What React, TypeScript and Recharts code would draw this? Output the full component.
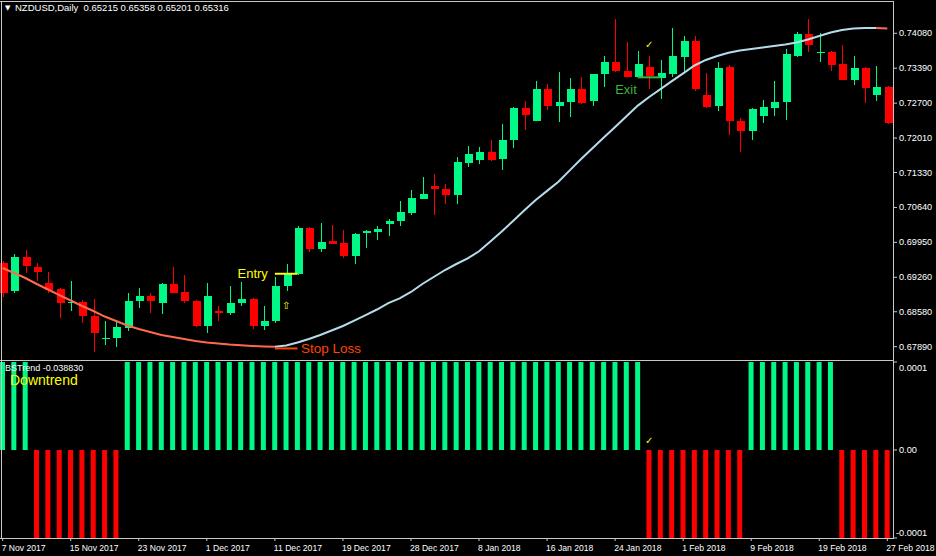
import { BarChart, Bar, Cell, ComposedChart, Line, ReferenceDot, ReferenceLine, XAxis, YAxis } from 'recharts';

// daily NZDUSD bars, 7 Nov 2017 .. 27 Feb 2018
const opens = [
  0.69542, 0.68976, 0.69655, 0.69469, 0.69153, 0.69023, 0.68746, 0.68772, 0.68495, 0.68047,
  0.68047, 0.68272, 0.68792, 0.68891, 0.68746, 0.69128, 0.6897, 0.68792, 0.68304, 0.686,
  0.68561, 0.68746, 0.68831, 0.68304, 0.68403, 0.69088, 0.69325, 0.70228, 0.69813, 0.69977,
  0.69938, 0.69681, 0.70121, 0.70161, 0.70319, 0.70372, 0.7053, 0.70813, 0.71058, 0.7101,
  0.70886, 0.71524, 0.71563, 0.71729, 0.71591, 0.71958, 0.72599, 0.72354, 0.7298, 0.7265,
  0.72709, 0.72974, 0.72743, 0.73262, 0.73507, 0.73335, 0.73223, 0.73409, 0.73203, 0.73276,
  0.73618, 0.73928, 0.72861, 0.7263, 0.73409, 0.72342, 0.72136, 0.72433, 0.7261, 0.72709,
  0.73638, 0.74066, 0.73691, 0.73705, 0.73468, 0.73158, 0.73401, 0.72847, 0.73013,
];
const highs = [
  0.69582, 0.6972, 0.69799, 0.69548, 0.69365, 0.69049, 0.69181, 0.68812, 0.68837, 0.68403,
  0.68416, 0.68944, 0.69043, 0.68956, 0.69153, 0.69469, 0.69305, 0.68812, 0.69141, 0.68699,
  0.69088, 0.69173, 0.68851, 0.68699, 0.69272, 0.69523, 0.70279, 0.70254, 0.70333, 0.70287,
  0.70188, 0.70141, 0.70194, 0.70273, 0.70412, 0.70767, 0.70985, 0.71241, 0.71301, 0.71103,
  0.71636, 0.71854, 0.71834, 0.71972, 0.72288, 0.7263, 0.72743, 0.73138, 0.73079, 0.73316,
  0.73197, 0.73223, 0.73276, 0.73632, 0.74363, 0.73908, 0.73731, 0.73632, 0.73553, 0.74191,
  0.74027, 0.74033, 0.73302, 0.73507, 0.73448, 0.72407, 0.72605, 0.72763, 0.73138, 0.73764,
  0.74112, 0.74363, 0.7408, 0.73721, 0.73849, 0.73632, 0.73415, 0.73434, 0.73029,
];
const lows = [
  0.68871, 0.68956, 0.69339, 0.69193, 0.68944, 0.6845, 0.686, 0.68363, 0.6779, 0.67923,
  0.67889, 0.68205, 0.68648, 0.68561, 0.68535, 0.68944, 0.68758, 0.68278, 0.68166, 0.68403,
  0.68515, 0.68699, 0.68233, 0.68219, 0.68351, 0.68995, 0.69305, 0.69766, 0.69766, 0.69912,
  0.69647, 0.69529, 0.69845, 0.69997, 0.70082, 0.70279, 0.70491, 0.70807, 0.70491, 0.70714,
  0.70714, 0.71433, 0.71492, 0.71557, 0.71386, 0.71814, 0.72176, 0.72348, 0.72565, 0.72328,
  0.72433, 0.72684, 0.7265, 0.73025, 0.73316, 0.73217, 0.73217, 0.7298, 0.72776, 0.73223,
  0.73322, 0.7294, 0.7261, 0.72551, 0.72071, 0.71741, 0.71972, 0.72302, 0.72446, 0.72367,
  0.73606, 0.73717, 0.73507, 0.73341, 0.7315, 0.73065, 0.72697, 0.72749, 0.72289,
];
const closes = [
  0.6895, 0.69655, 0.69469, 0.69371, 0.69023, 0.68746, 0.68766, 0.68495, 0.68166, 0.68055,
  0.68272, 0.68798, 0.68891, 0.68792, 0.69128, 0.68956, 0.68792, 0.68304, 0.68891, 0.68561,
  0.68758, 0.68831, 0.68304, 0.68403, 0.69088, 0.69325, 0.70228, 0.69813, 0.69957, 0.69924,
  0.69681, 0.70115, 0.70169, 0.70214, 0.70378, 0.7055, 0.70832, 0.70906, 0.70991, 0.70886,
  0.71538, 0.71696, 0.71729, 0.71577, 0.71972, 0.72599, 0.72466, 0.7298, 0.7265, 0.72723,
  0.72974, 0.72697, 0.7327, 0.73507, 0.73322, 0.73223, 0.73474, 0.73223, 0.73296, 0.73632,
  0.73928, 0.7298, 0.7263, 0.73389, 0.72334, 0.72136, 0.72579, 0.72618, 0.72723, 0.73665,
  0.74066, 0.73849, 0.73705, 0.73454, 0.73158, 0.73389, 0.73006, 0.73013, 0.72308,
];
// moving average (orange while falling, light blue while rising)
const ma = [
  0.69444, 0.69345, 0.69246, 0.69128, 0.69019, 0.6891, 0.68802, 0.68693, 0.68594, 0.68485,
  0.68397, 0.68308, 0.68239, 0.68179, 0.6812, 0.68081, 0.68041, 0.68001, 0.67972, 0.67952,
  0.67932, 0.67917, 0.67903, 0.67893, 0.67887, 0.67913, 0.67972, 0.68041, 0.6812, 0.68209,
  0.68298, 0.68406, 0.68515, 0.68624, 0.68752, 0.68845, 0.6897, 0.69128, 0.69266, 0.69404,
  0.69523, 0.69633, 0.69774, 0.69969, 0.70165, 0.70374, 0.70586, 0.70789, 0.70967, 0.71149,
  0.71372, 0.71597, 0.7181, 0.7202, 0.72229, 0.72441, 0.72652, 0.72822, 0.72978, 0.73134,
  0.73288, 0.73444, 0.73553, 0.73632, 0.73695, 0.7374, 0.7377, 0.738, 0.73829, 0.73859,
  0.73898, 0.73958, 0.74027, 0.74096, 0.74145, 0.74175, 0.74185, 0.74185, 0.74175,
];
// BSTrend histogram
const trend = [
  0.0001, 0.0001, 0.0001, -0.0001, -0.0001, -0.0001, -0.0001, -0.0001, -0.0001, -0.0001,
  -0.0001, 0.0001, 0.0001, 0.0001, 0.0001, 0.0001, 0.0001, 0.0001, 0.0001, 0.0001,
  0.0001, 0.0001, 0.0001, 0.0001, 0.0001, 0.0001, 0.0001, 0.0001, 0.0001, 0.0001,
  0.0001, 0.0001, 0.0001, 0.0001, 0.0001, 0.0001, 0.0001, 0.0001, 0.0001, 0.0001,
  0.0001, 0.0001, 0.0001, 0.0001, 0.0001, 0.0001, 0.0001, 0.0001, 0.0001, 0.0001,
  0.0001, 0.0001, 0.0001, 0.0001, 0.0001, 0.0001, 0.0001, -0.0001, -0.0001, -0.0001,
  -0.0001, -0.0001, -0.0001, -0.0001, -0.0001, -0.0001, 0.0001, 0.0001, 0.0001, 0.0001,
  0.0001, 0.0001, 0.0001, 0.0001, -0.0001, -0.0001, -0.0001, -0.0001, -0.0001,
];
const dateTicks = [
  '7 Nov 2017', '15 Nov 2017', '23 Nov 2017', '1 Dec 2017', '11 Dec 2017', '19 Dec 2017', '28 Dec 2017',
  '8 Jan 2018', '16 Jan 2018', '24 Jan 2018', '1 Feb 2018', '9 Feb 2018', '19 Feb 2018', '27 Feb 2018',
];
const priceTicks = [0.7408, 0.7339, 0.727, 0.7201, 0.7133, 0.7064, 0.6995, 0.6926, 0.6858, 0.6789];
const trendTicks = [0.0001, 0, -0.0001];

const BULL = '#00F886';
const BEAR = '#FF0000';
const GRID = '#C8C8C8';
const FONT = "'Liberation Sans', Arial, sans-serif";

const candles = opens.map((open, i) => ({
  i,
  open,
  high: highs[i],
  low: lows[i],
  close: closes[i],
  range: [lows[i], highs[i]],
  maDown: i <= 24 || i >= 77 ? ma[i] : null,
  maUp: i >= 24 && i <= 77 ? ma[i] : null,
}));
const trendData = trend.map((v, i) => ({ i, v }));

const Candle = (props: any) => {
  const { x, y, width, height, payload } = props;
  if (y == null || height == null) return null;
  const { open, high, low, close } = payload;
  const color = close >= open ? BULL : BEAR;
  const top = Math.min(y, y + height);
  const ratio = Math.abs(height) / (high - low);
  const yo = top + (high - open) * ratio;
  const yc = top + (high - close) * ratio;
  const cx = Math.round(x + width / 2);
  const bTop = Math.round(Math.min(yo, yc));
  const bH = Math.max(Math.round(Math.abs(yo - yc)), 1);
  return (
    <g shapeRendering="crispEdges">
      <line x1={cx + 0.5} x2={cx + 0.5} y1={Math.round(top)} y2={Math.round(top + Math.abs(height))} stroke={color} />
      <rect x={cx - 3} y={bTop} width={8} height={bH} fill={color} />
    </g>
  );
};

const PriceTick = (props: any) => {
  const { x, y, payload } = props;
  return (
    <text x={x} y={y} dy={3} fill="#fff" fontSize={9.2} fontFamily={FONT} textAnchor="start">
      {payload.value.toFixed(5)}
    </text>
  );
};

const TrendTick = (props: any) => {
  const { x, y, payload } = props;
  const v = payload.value;
  const label = v > 0 ? '0.0001' : v < 0 ? '-0.0001' : '0.00';
  const off = v > 0 ? 6 : v < 0 ? -5 : 0;
  return (
    <text x={v < 0 ? x - 3 : x} y={y + off} dy={3} fill="#fff" fontSize={9.2} fontFamily={FONT} textAnchor="start">
      {label}
    </text>
  );
};

const DateTick = (props: any) => {
  const { x, y, payload } = props;
  return (
    <text x={x - 1} y={y} dy={8} fill="#fff" fontSize={8.6} fontFamily={FONT} textAnchor="start">
      {dateTicks[payload.value / 6]}
    </text>
  );
};

const note = (text: string, color: string, dx: number, dy: number, anchor: string, size = 13, family = FONT) =>
  (p: any) => (
    <text x={p.cx + dx} y={p.cy + dy} fill={color} fontSize={size} fontFamily={family} textAnchor={anchor}>
      {text}
    </text>
  );

const line = (style: any) => <div style={{ position: 'absolute', background: GRID, ...style }} />;

export default function App() {
  return (
    <div style={{ position: 'absolute', left: 0, top: 0, width: 936, height: 556, background: '#000', overflow: 'hidden' }}>
      <div style={{ position: 'absolute', left: -3, top: 0 }}>
        <ComposedChart width={939} height={360} data={candles} margin={{ top: 2, right: 0, bottom: 3, left: 0 }}>
          <XAxis dataKey="i" hide />
          <YAxis
            orientation="right"
            width={43}
            domain={[0.67686, 0.74698]}
            ticks={priceTicks}
            interval={0}
            allowDataOverflow
            axisLine={false}
            tickSize={4}
            tickLine={{ stroke: GRID }}
            tick={<PriceTick />}
          />
          <Bar dataKey="range" barSize={8} shape={<Candle />} isAnimationActive={false} />
          <Line dataKey="maDown" stroke="#FF6A4D" strokeWidth={2} dot={false} connectNulls={false} isAnimationActive={false} />
          <Line dataKey="maUp" stroke="#B4DCEA" strokeWidth={2} dot={false} connectNulls={false} isAnimationActive={false} />
          <ReferenceLine segment={[{ x: 24, y: 0.6933 }, { x: 26, y: 0.6933 }]} stroke="#FFFF00" strokeWidth={2} />
          <ReferenceLine segment={[{ x: 24, y: 0.67855 }, { x: 26, y: 0.67855 }]} stroke="#FF4500" strokeWidth={2} />
          <ReferenceLine segment={[{ x: 56, y: 0.7321 }, { x: 58, y: 0.7321 }]} stroke="#3AB43A" strokeWidth={2} />
          <ReferenceDot x={24} y={0.6933} r={0} shape={note('Entry', '#FFFF00', -7, 4.5, 'end')} />
          <ReferenceDot x={26} y={0.67855} r={0} shape={note('Stop Loss', '#FF4500', 3.5, 5, 'start', 13.5)} />
          <ReferenceDot x={56} y={0.7321} r={0} shape={note('Exit', '#3AB43A', -1, 16.5, 'end')} />
          <ReferenceDot x={25} y={0.6871} r={0} shape={note('⇧', '#FFFF00', 0, 4, 'middle', 10, 'DejaVu Sans')} />
          <ReferenceDot x={57} y={0.7387} r={0} shape={note('✓', '#FFFF00', 0, 4, 'middle', 10, 'DejaVu Sans')} />
        </ComposedChart>
      </div>
      <div style={{ position: 'absolute', left: -3, top: 358 }}>
        <BarChart width={939} height={198} data={trendData} margin={{ top: 4, right: 0, bottom: 0, left: 0 }}>
          <XAxis
            dataKey="i"
            interval={5}
            height={18}
            axisLine={false}
            tickSize={3}
            tickLine={{ stroke: GRID }}
            tick={<DateTick />}
          />
          <YAxis
            orientation="right"
            width={43}
            domain={[-0.0001, 0.0001]}
            ticks={trendTicks}
            interval={0}
            allowDataOverflow
            axisLine={false}
            tickSize={4}
            tickLine={{ stroke: GRID }}
            tick={<TrendTick />}
          />
          <Bar dataKey="v" barSize={5} isAnimationActive={false}>
            {trendData.map((d) => (
              <Cell key={d.i} fill={d.v > 0 ? BULL : BEAR} />
            ))}
          </Bar>
          <ReferenceDot x={57} y={0.0000115} r={0} shape={note('✓', '#FFFF00', 0, 4, 'middle', 10, 'DejaVu Sans')} />
        </BarChart>
      </div>
      {line({ left: 0, top: 1, width: 894, height: 1 })}
      {line({ left: 1, top: 1, width: 1, height: 538 })}
      {line({ left: 0, top: 360, width: 894, height: 1 })}
      {line({ left: 0, top: 538, width: 894, height: 1 })}
      {line({ left: 893, top: 1, width: 1, height: 538 })}
      <div style={{ position: 'absolute', left: 5, top: 3, color: '#fff', fontSize: 7, fontFamily: 'DejaVu Sans', lineHeight: '10px' }}>
        ▼
      </div>
      <div style={{ position: 'absolute', left: 15, top: 3, color: '#fff', fontSize: 9.5, fontFamily: FONT, lineHeight: '10px', whiteSpace: 'pre' }}>
        {'NZDUSD,Daily  0.65215 0.65358 0.65201 0.65316'}
      </div>
      <div style={{ position: 'absolute', left: 5, top: 363, color: '#fff', fontSize: 9, fontFamily: FONT, lineHeight: '10px', whiteSpace: 'pre' }}>
        BSTrend -0.038830
      </div>
      <div style={{ position: 'absolute', left: 10, top: 372, color: '#FFFF00', fontSize: 14, fontFamily: FONT, lineHeight: '16px' }}>
        Downtrend
      </div>
    </div>
  );
}
